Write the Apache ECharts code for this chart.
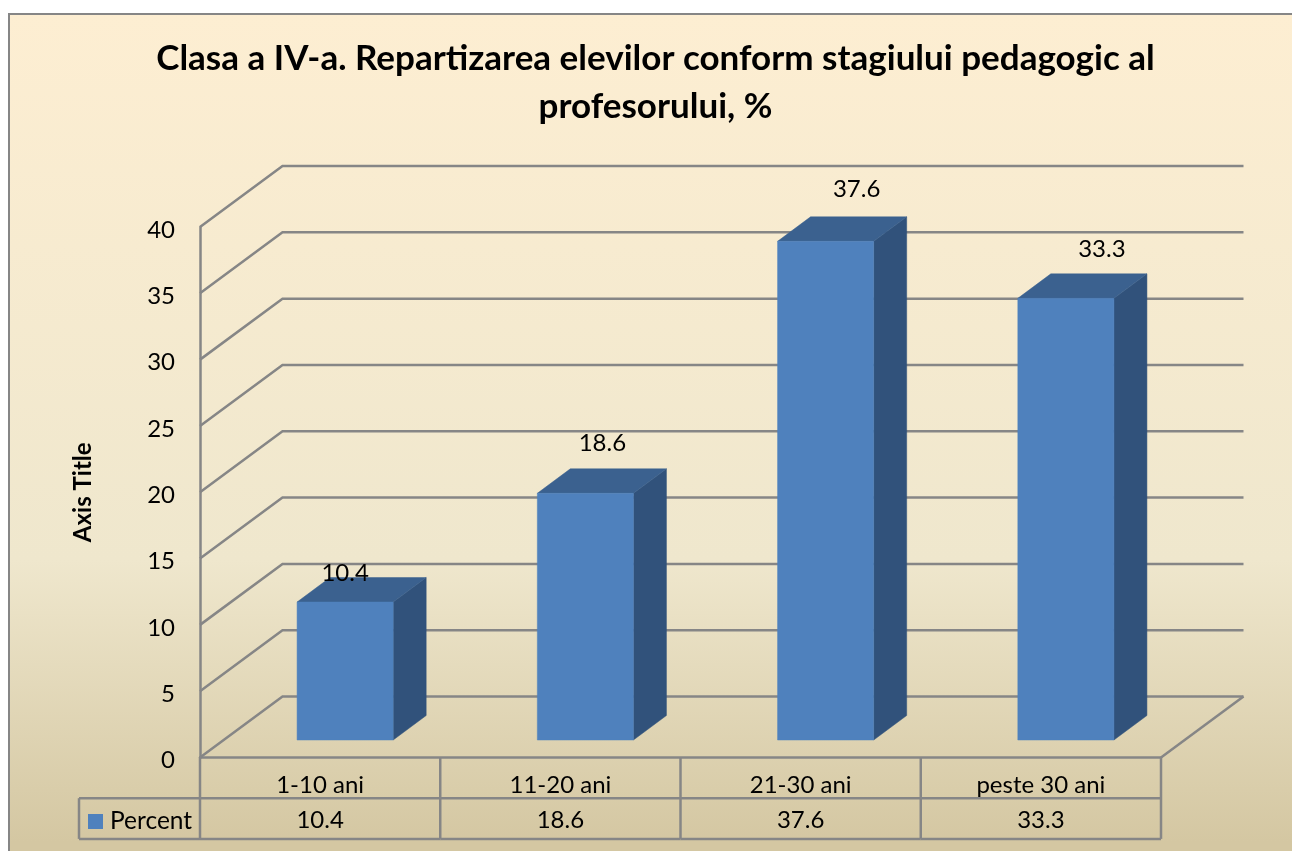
<!DOCTYPE html>
<html>
<head>
<meta charset="utf-8">
<style>html,body{margin:0;padding:0;background:#fff}#c{width:1292px;height:851px}</style>
<script src="https://cdn.jsdelivr.net/npm/echarts@6/dist/echarts.min.js"></script>
</head>
<body>
<div id="c"></div>
<script>
const titleText = 'Clasa a IV-a. Repartizarea elevilor conform stagiului pedagogic al\nprofesorului, %';
const categories = ['1-10 ani', '11-20 ani', '21-30 ani', 'peste 30 ani'];
const percentValues = [10.4, 18.6, 37.6, 33.3];
const yTicks = [0, 5, 10, 15, 20, 25, 30, 35, 40];
const seriesName = 'Percent';
const yAxisTitle = 'Axis Title';

// Hand-placed data label nudges (dx, dy from the top-front of each bar)
const labelDx = [0, 17, 31, 36];
const labelDy = [-29, -50, -52, -49];

const FONT = 'Lato, Carlito, sans-serif';
const LABEL_FONT = '24px ' + FONT;
const LINE = '#868686';
const WALL = { x: 82.5, y: -61 };       // depth of the 3D floor / walls
const BAR_DEPTH = { x: 33, y: -24.5 };
const BAR_INSET = { x: 25, y: -17.5 };
const ROW_H = 40.7;
const KEY_W = 121;

const lineStyle = { stroke: LINE, lineWidth: 2.5, fill: null };

function renderWall(params, api) {
  const cs = params.coordSys;
  const v = api.value(0);
  const y = api.coord([0, v])[1];
  const x0 = cs.x, x1 = cs.x + cs.width;
  const children = [{
    type: 'polyline',
    shape: { points: [[x0, y], [x0 + WALL.x, y + WALL.y], [x1 + WALL.x, y + WALL.y]] },
    style: lineStyle
  }];
  if (v === 0) {
    children.push({
      type: 'polyline',
      shape: { points: [[x1 + WALL.x, y + WALL.y], [x1, y]] },
      style: lineStyle
    });
  }
  return { type: 'group', children };
}

function renderBar(params, api) {
  const i = api.value(0), v = api.value(1);
  const c = api.coord([i, v]), base = api.coord([i, 0]);
  const w = api.size([1, 0])[0] * 0.4;
  const xl = c[0] - w / 2 + BAR_INSET.x, xr = xl + w;
  const yt = c[1] + BAR_INSET.y, yb = base[1] + BAR_INSET.y;
  const dx = BAR_DEPTH.x, dy = BAR_DEPTH.y;
  const poly = (pts, fill) => ({
    type: 'polygon', shape: { points: pts },
    style: { fill, stroke: fill, lineWidth: 0.5 }
  });
  return {
    type: 'group',
    children: [
      poly([[xr, yt], [xr + dx, yt + dy], [xr + dx, yb + dy], [xr, yb]], '#31527b'),
      poly([[xl, yt], [xl + dx, yt + dy], [xr + dx, yt + dy], [xr, yt]], '#3b618f'),
      poly([[xl, yt], [xr, yt], [xr, yb], [xl, yb]], '#4f81bd'),
      {
        type: 'text', z2: 10,
        style: {
          text: String(v), x: (xl + xr) / 2 + labelDx[i], y: yt + labelDy[i],
          font: LABEL_FONT, fill: '#000', align: 'center', verticalAlign: 'middle'
        }
      }
    ]
  };
}

function renderTable(params, api) {
  const cs = params.coordSys;
  const i = api.value(0), v = api.value(1);
  const band = api.size([1, 0])[0];
  const cx = api.coord([i, 0])[0];
  const y0 = cs.y + cs.height, y1 = y0 + ROW_H, y2 = y1 + ROW_H;
  const seg = (a, b) => ({ type: 'line', shape: { x1: a[0], y1: a[1], x2: b[0], y2: b[1] }, style: lineStyle });
  const r = cx + band / 2, l = cx - band / 2;
  const children = [
    seg([r, y0], [r, y2]),
    seg([l, y1], [r, y1]),
    seg([l, y2], [r, y2]),
    {
      type: 'text',
      style: { text: String(v), x: cx, y: (y1 + y2) / 2 + 1.5, font: LABEL_FONT, fill: '#000', align: 'center', verticalAlign: 'middle' }
    }
  ];
  if (i === 0) {
    children.push(
      seg([l, y0], [l, y2]),
      seg([l - KEY_W, y1], [l, y1]),
      seg([l - KEY_W, y2], [l, y2]),
      seg([l - KEY_W, y1], [l - KEY_W, y2])
    );
  }
  return { type: 'group', children };
}

const chart = echarts.init(document.getElementById('c'));
chart.setOption({
  animation: false,
  graphic: [{
    type: 'rect', z: -10, silent: true,
    shape: { x: 9, y: 14, width: 1320, height: 880 },
    style: {
      stroke: LINE, lineWidth: 2,
      fill: {
        type: 'linear', x: 0, y: 0, x2: 0, y2: 1, global: false,
        colorStops: [
          { offset: 0, color: '#fdeed2' },
          { offset: 0.62, color: '#efe7cd' },
          { offset: 0.94, color: '#d4c7a2' },
          { offset: 1, color: '#d4c7a2' }
        ]
      }
    }
  }],
  title: {
    text: titleText, left: 650.5, top: 30, textAlign: 'center',
    textStyle: { fontFamily: FONT, fontWeight: 'bold', fontSize: 35, lineHeight: 48, color: '#000' }
  },
  legend: {
    data: [seriesName], left: 83, top: 804, icon: 'rect',
    itemWidth: 15, itemHeight: 15, itemGap: 0,
    textStyle: { fontFamily: FONT, fontSize: 24.5, color: '#000', padding: [0, 0, 0, 2] }
  },
  grid: { left: 200, top: 227, width: 961, height: 530.5 },
  xAxis: {
    type: 'category', data: categories,
    axisTick: { show: false },
    axisLine: { lineStyle: { color: LINE, width: 2.5 } },
    axisLabel: { fontFamily: FONT, fontSize: 24, color: '#000', margin: 16 },
    splitLine: { show: false }
  },
  yAxis: {
    type: 'value', min: 0, max: 40, interval: 5,
    name: yAxisTitle, nameLocation: 'middle', nameGap: 105, nameRotate: 90,
    nameTextStyle: { fontFamily: FONT, fontWeight: 'bold', fontSize: 24, color: '#000' },
    axisLine: { show: true, lineStyle: { color: LINE, width: 2.5 } },
    axisTick: { show: false },
    axisLabel: {
      color: '#000', margin: 25,
      formatter: '{n|{value}}',
      rich: { n: { fontFamily: FONT, fontSize: 24, color: '#000', padding: [6, 0, 0, 0] } }
    },
    splitLine: { show: false }
  },
  series: [
    { type: 'custom', name: 'walls', silent: true, z: 1, renderItem: renderWall, data: yTicks.map(t => [t]), encode: { y: 0 } },
    { type: 'custom', name: 'table', silent: true, z: 1, renderItem: renderTable, data: percentValues.map((v, i) => [i, v]), encode: { x: 0 } },
    { type: 'custom', name: seriesName, z: 3, itemStyle: { color: '#4f81bd' }, renderItem: renderBar, data: percentValues.map((v, i) => [i, v]), encode: { x: 0, y: 1 } }
  ]
});
</script>
</body>
</html>
